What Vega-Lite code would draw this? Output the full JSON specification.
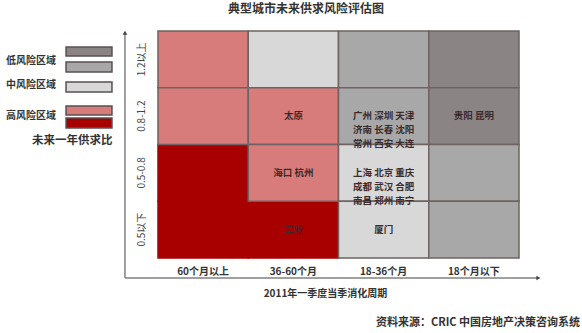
{
  "$schema": "https://vega.github.io/schema/vega-lite/v6.json",
  "width": 361,
  "height": 227,
  "autosize": {"type": "none"},
  "padding": {"left": 158, "top": 31, "right": 63, "bottom": 75},
  "background": "white",
  "config": {"view": {"stroke": null}, "font": "Noto Sans CJK SC", "text": {"font": "Noto Sans CJK SC"}},
  "datasets": {
    "cells": [
      {"period": "60个月以上", "ratio": "0.5-0.8", "risk": "高2", "cities": ""},
      {"period": "60个月以上", "ratio": "0.5以下", "risk": "高2", "cities": ""},
      {"period": "36-60个月", "ratio": "0.5以下", "risk": "高2", "cities": "三亚"},
      {"period": "60个月以上", "ratio": "1.2以上", "risk": "高1", "cities": ""},
      {"period": "60个月以上", "ratio": "0.8-1.2", "risk": "高1", "cities": ""},
      {"period": "36-60个月", "ratio": "1.2以上", "risk": "中", "cities": ""},
      {"period": "36-60个月", "ratio": "0.8-1.2", "risk": "高1", "cities": "太原"},
      {"period": "36-60个月", "ratio": "0.5-0.8", "risk": "高1", "cities": "海口 杭州"},
      {"period": "18-36个月", "ratio": "1.2以上", "risk": "低2", "cities": ""},
      {"period": "18-36个月", "ratio": "0.8-1.2", "risk": "低2", "cities": "广州 深圳 天津\n济南 长春 沈阳\n常州 西安 大连"},
      {"period": "18-36个月", "ratio": "0.5-0.8", "risk": "中", "cities": "上海 北京 重庆\n成都 武汉 合肥\n南昌 郑州 南宁"},
      {"period": "18-36个月", "ratio": "0.5以下", "risk": "中", "cities": "厦门"},
      {"period": "18个月以下", "ratio": "1.2以上", "risk": "低1", "cities": ""},
      {"period": "18个月以下", "ratio": "0.8-1.2", "risk": "低1", "cities": "贵阳 昆明"},
      {"period": "18个月以下", "ratio": "0.5-0.8", "risk": "低2", "cities": ""},
      {"period": "18个月以下", "ratio": "0.5以下", "risk": "低2", "cities": ""}
    ]
  },
  "layer": [
    {
      "data": {"name": "cells"},
      "encoding": {
        "x": {
          "field": "period", "type": "ordinal",
          "sort": ["60个月以上", "36-60个月", "18-36个月", "18个月以下"],
          "scale": {"paddingInner": 0, "paddingOuter": 0},
          "axis": {
            "orient": "bottom", "domain": false, "ticks": false, "grid": false,
            "labelAngle": 0, "labelPadding": 8, "labelFontSize": 10, "labelFontWeight": "bold", "labelColor": "#333333",
            "labelFont": "Noto Sans CJK SC",
            "title": "2011年一季度当季消化周期", "titleFont": "Noto Sans CJK SC", "titleFontSize": 10, "titleFontWeight": "bold",
            "titleColor": "#333333", "titlePadding": 12, "titleX": 167
          }
        },
        "y": {
          "field": "ratio", "type": "ordinal",
          "sort": ["1.2以上", "0.8-1.2", "0.5-0.8", "0.5以下"],
          "scale": {"paddingInner": 0, "paddingOuter": 0},
          "axis": {
            "orient": "left", "domain": false, "ticks": false, "grid": false,
            "labelAngle": 270, "labelAlign": "center", "labelBaseline": "bottom", "labelPadding": 12,
            "labelFontSize": 10, "labelColor": "#444444", "labelFont": "Noto Sans CJK SC", "title": null
          }
        }
      },
      "layer": [
        {
          "mark": {"type": "rect", "strokeWidth": 1.5},
          "encoding": {
            "fill": {
              "field": "risk", "type": "nominal",
              "scale": {"domain": ["低1", "低2", "中", "高1", "高2"], "range": ["#8b8484", "#a8a8a8", "#d8d8d8", "#d87b7b", "#a80000"]},
              "legend": null
            },
            "stroke": {"condition": {"test": "datum.risk === '高2'", "value": "#a80000"}, "value": "#6e6262"}
          }
        },
        {
          "mark": {"type": "text", "fontSize": 9.5, "fontWeight": "bold", "lineBreak": "\n", "lineHeight": 14, "color": "#3b2b2b", "align": "center", "baseline": "middle"},
          "encoding": {
            "text": {"field": "cities"}
          }
        }
      ]
    },
    {
      "data": {"values": [{}]},
      "layer": [
        {
          "mark": {"type": "rule", "color": "#808080", "strokeWidth": 1.5},
          "encoding": {
            "x": {"datum": -0.366, "type": "quantitative", "scale": {"domain": [0, 4], "nice": false, "zero": false}, "axis": null},
            "y": {"datum": -0.352, "type": "quantitative", "scale": {"domain": [0, 4], "nice": false, "zero": false}, "axis": null},
            "y2": {"datum": 3.98}
          }
        },
        {
          "mark": {"type": "rule", "color": "#808080", "strokeWidth": 1.5},
          "encoding": {
            "x": {"datum": -0.366, "type": "quantitative"},
            "x2": {"datum": 4.2},
            "y": {"datum": -0.352, "type": "quantitative"}
          }
        },
        {
          "mark": {"type": "point", "shape": "triangle-up", "filled": true, "size": 22, "color": "#444444", "opacity": 1},
          "encoding": {"x": {"datum": -0.366, "type": "quantitative"}, "y": {"datum": 3.97, "type": "quantitative"}}
        },
        {
          "mark": {"type": "point", "shape": "triangle-right", "filled": true, "size": 22, "color": "#444444", "opacity": 1},
          "encoding": {"x": {"datum": 4.215, "type": "quantitative"}, "y": {"datum": -0.352, "type": "quantitative"}}
        },
        {
          "mark": {"type": "text", "text": "典型城市未来供求风险评估图", "fontSize": 12, "fontWeight": "bold", "color": "#333333", "align": "center", "baseline": "middle"},
          "encoding": {"x": {"datum": 1.64, "type": "quantitative"}, "y": {"datum": 4.385, "type": "quantitative"}}
        },
        {
          "mark": {"type": "text", "text": "资料来源：CRIC 中国房地产决策咨询系统", "fontSize": 11, "fontWeight": "bold", "color": "#333333", "align": "right", "baseline": "middle"},
          "encoding": {"x": {"datum": 4.676, "type": "quantitative"}, "y": {"datum": -1.145, "type": "quantitative"}}
        },
        {
          "mark": {"type": "rect", "fill": "#8b8484", "stroke": "#5a5050", "strokeWidth": 1.5},
          "encoding": {"x": {"datum": -1.019, "type": "quantitative"}, "x2": {"datum": -0.51}, "y": {"datum": 3.718, "type": "quantitative"}, "y2": {"datum": 3.559}}
        },
        {
          "mark": {"type": "rect", "fill": "#a8a8a8", "stroke": "#5a5050", "strokeWidth": 1.5},
          "encoding": {"x": {"datum": -1.019, "type": "quantitative"}, "x2": {"datum": -0.51}, "y": {"datum": 3.454, "type": "quantitative"}, "y2": {"datum": 3.278}}
        },
        {
          "mark": {"type": "rect", "fill": "#d8d8d8", "stroke": "#5a5050", "strokeWidth": 1.5},
          "encoding": {"x": {"datum": -1.019, "type": "quantitative"}, "x2": {"datum": -0.51}, "y": {"datum": 3.101, "type": "quantitative"}, "y2": {"datum": 2.925}}
        },
        {
          "mark": {"type": "rect", "fill": "#d87b7b", "stroke": "#5a5050", "strokeWidth": 1.5},
          "encoding": {"x": {"datum": -1.019, "type": "quantitative"}, "x2": {"datum": -0.51}, "y": {"datum": 2.678, "type": "quantitative"}, "y2": {"datum": 2.52}}
        },
        {
          "mark": {"type": "rect", "fill": "#a80000", "stroke": "#5a5050", "strokeWidth": 1.5},
          "encoding": {"x": {"datum": -1.019, "type": "quantitative"}, "x2": {"datum": -0.51}, "y": {"datum": 2.467, "type": "quantitative"}, "y2": {"datum": 2.291}}
        },
        {
          "mark": {"type": "text", "text": "低风险区域", "fontSize": 10, "fontWeight": "bold", "color": "#333333", "align": "left", "baseline": "middle"},
          "encoding": {"x": {"datum": -1.684, "type": "quantitative"}, "y": {"datum": 3.471, "type": "quantitative"}}
        },
        {
          "mark": {"type": "text", "text": "中风险区域", "fontSize": 10, "fontWeight": "bold", "color": "#333333", "align": "left", "baseline": "middle"},
          "encoding": {"x": {"datum": -1.684, "type": "quantitative"}, "y": {"datum": 3.04, "type": "quantitative"}}
        },
        {
          "mark": {"type": "text", "text": "高风险区域", "fontSize": 10, "fontWeight": "bold", "color": "#333333", "align": "left", "baseline": "middle"},
          "encoding": {"x": {"datum": -1.684, "type": "quantitative"}, "y": {"datum": 2.511, "type": "quantitative"}}
        },
        {
          "mark": {"type": "text", "text": "未来一年供求比", "fontSize": 11.5, "fontWeight": "bold", "color": "#333333", "align": "left", "baseline": "middle"},
          "encoding": {"x": {"datum": -1.396, "type": "quantitative"}, "y": {"datum": 2.062, "type": "quantitative"}}
        }
      ]
    }
  ],
  "resolve": {"scale": {"x": "independent", "y": "independent", "fill": "independent", "stroke": "independent", "color": "independent"}}
}
